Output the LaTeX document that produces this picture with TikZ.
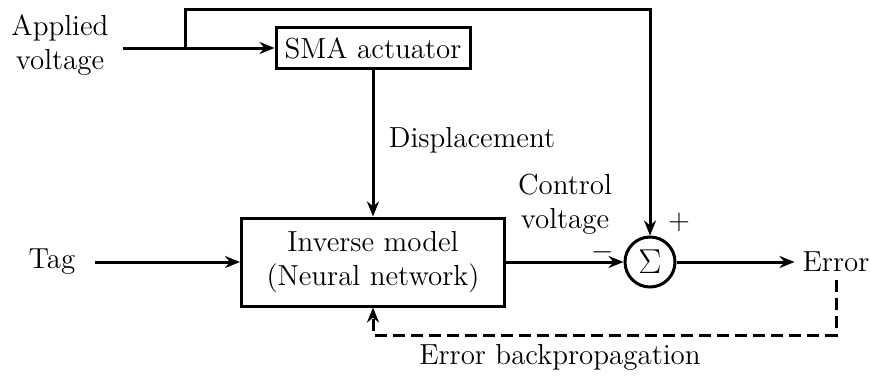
\documentclass[tikz,border=0pt]{standalone}
\usetikzlibrary{arrows.meta}
\begin{document}
\begin{tikzpicture}[x=0.5pt,y=-0.5pt,
  font=\fontsize{14.5}{17}\selectfont,
  line width=1.5pt,
  >={Stealth[length=7.5pt,width=6pt]},
  blk/.style={draw, line width=1.5pt, align=center},
  lbl/.style={align=center, inner sep=0pt}]
\useasboundingbox (0,0) rectangle (870,380);
\node[lbl] (av) at (60,45) {Applied\\voltage};
\coordinate (avs) at (123,48);
\coordinate (br) at (185,48);
\coordinate (top) at (185,9);
\node[blk, minimum width=97pt, minimum height=20.5pt] (sma) at (373,48) {SMA actuator};
\node[blk, minimum width=131.5pt, minimum height=44pt] (inv) at (373,262) {Inverse model\\(Neural network)};
\node[circle, draw, line width=1.5pt, minimum size=25pt, inner sep=0pt, font=\fontsize{16}{18}\selectfont] (sum) at (650,262) {$\Sigma$};
\node (tag) at (52,262) {Tag};
\node (err) at (836,262) {Error};
\coordinate (dc) at (836,335);
\node[lbl] (disp) at (472,140) {Displacement};
\node[lbl] (cv) at (565,204) {Control\\voltage};
\node[lbl] (minus) at (603,252) {$-$};
\node[lbl] (plus) at (679,222) {$+$};
\node[lbl] (ebp) at (560,357) {Error backpropagation};

\draw[->] (avs) -- (sma.west);
\draw[->] (br) -- (top) -| (sum.north);
\draw[->] (sma.south) -- (inv.north);
\draw[->] (tag.east -| 95,0) -- (inv.west);
\draw[->] (inv.east) -- (sum.west);
\draw[->] (sum.east) -- (err.west);
\draw[->, dash pattern=on 6pt off 3pt] (err.south) -- (dc) -| (inv.south);
\end{tikzpicture}
\end{document}
